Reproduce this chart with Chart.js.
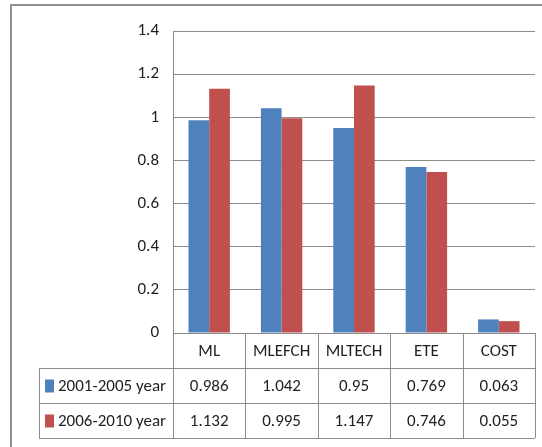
<!DOCTYPE html>
<html>
<head>
<meta charset="utf-8">
<script src="https://cdn.jsdelivr.net/npm/chart.js@4"></script>
<style>
  html, body { margin: 0; padding: 0; background: #ffffff; }
  #wrap { width: 542px; height: 447px; position: relative; }
</style>
</head>
<body>
<div id="wrap"><canvas id="chart"></canvas></div>
<script>
// Indicators and the two period series
const categories = ['ML', 'MLEFCH', 'MLTECH', 'ETE', 'COST'];
const seriesNames = ['2001-2005 year', '2006-2010 year'];
const period1 = [0.986, 1.042, 0.95, 0.769, 0.063];
const period2 = [1.132, 0.995, 1.147, 0.746, 0.055];
const yTicks = [0, 0.2, 0.4, 0.6, 0.8, 1, 1.2, 1.4];

const FONT = "'Liberation Sans Narrow', Carlito, 'Open Sans', sans-serif";
const TEXT = '#1f1f1f';
const LINE = '#8c8c8c';
const COLORS = ['#4f81bd', '#c0504d'];

// Data table under the plot, with legend keys in the first column
const dataTablePlugin = {
  id: 'dataTable',
  afterDraw(chart) {
    const { ctx, chartArea } = chart;
    const x = chart.scales.x;
    const rows = [period1, period2];
    const top = chartArea.bottom;
    const rowH = 35;
    const tableLeft = 39;
    const n = categories.length;
    const half = (x.getPixelForValue(1) - x.getPixelForValue(0)) / 2;
    const edges = [];
    for (let i = 0; i < n; i++) edges.push(x.getPixelForValue(i) - half);
    edges.push(x.getPixelForValue(n - 1) + half);

    ctx.save();
    // outer frame of the chart object
    ctx.strokeStyle = '#909090';
    ctx.lineWidth = 2;
    ctx.strokeRect(11, 5, 600, 600);

    ctx.strokeStyle = LINE;
    ctx.lineWidth = 1;
    ctx.beginPath();
    // horizontal rules
    ctx.moveTo(edges[0], top + 0.5); ctx.lineTo(edges[n], top + 0.5);
    for (let r = 1; r <= 3; r++) {
      const y = Math.round(top + r * rowH) + 0.5;
      ctx.moveTo(tableLeft, y); ctx.lineTo(edges[n], y);
    }
    // vertical rules
    edges.forEach(e => {
      const ex = Math.round(e) + 0.5;
      ctx.moveTo(ex, top); ctx.lineTo(ex, top + 3 * rowH);
    });
    ctx.moveTo(tableLeft + 0.5, top + rowH); ctx.lineTo(tableLeft + 0.5, top + 3 * rowH);
    ctx.stroke();

    ctx.fillStyle = TEXT;
    ctx.font = '17px ' + FONT;
    ctx.textBaseline = 'middle';
    ctx.textAlign = 'center';
    categories.forEach((c, i) => {
      ctx.fillText(c, x.getPixelForValue(i), top + rowH / 2 + 1);
    });
    rows.forEach((vals, r) => {
      const cy = top + (r + 1) * rowH + rowH / 2 + 1;
      vals.forEach((v, i) => {
        ctx.fillText(String(v), x.getPixelForValue(i), cy);
      });
      // legend key and series name
      ctx.fillStyle = COLORS[r];
      ctx.fillRect(45, cy - 7, 9, 13);
      ctx.fillStyle = TEXT;
      ctx.textAlign = 'left';
      ctx.fillText(seriesNames[r], 58, cy);
      ctx.textAlign = 'center';
    });
    ctx.restore();
  }
};

new Chart(document.getElementById('chart'), {
  type: 'bar',
  data: {
    labels: categories,
    datasets: [
      { label: seriesNames[0], data: period1, backgroundColor: COLORS[0] },
      { label: seriesNames[1], data: period2, backgroundColor: COLORS[1] }
    ]
  },
  options: {
    responsive: true,
    maintainAspectRatio: false,
    animation: false,
    devicePixelRatio: 1,
    layout: { padding: { top: 31, right: 7, bottom: 114, left: 0 } },
    plugins: { legend: { display: false }, tooltip: { enabled: false } },
    datasets: { bar: { categoryPercentage: 0.572, barPercentage: 1.0, borderWidth: 0 } },
    scales: {
      x: { display: false },
      y: {
        min: 0,
        max: 1.4,
        afterBuildTicks(s) { s.ticks = yTicks.map(v => ({ value: v })); },
        afterFit(s) { s.width = 173; },
        ticks: {
          padding: 14,
          color: TEXT,
          font: { family: FONT, size: 17 },
          callback: v => String(Number(v.toFixed(1)))
        },
        grid: { color: LINE, drawTicks: false },
        border: { display: true, color: LINE }
      }
    }
  },
  plugins: [dataTablePlugin]
});
</script>
</body>
</html>
